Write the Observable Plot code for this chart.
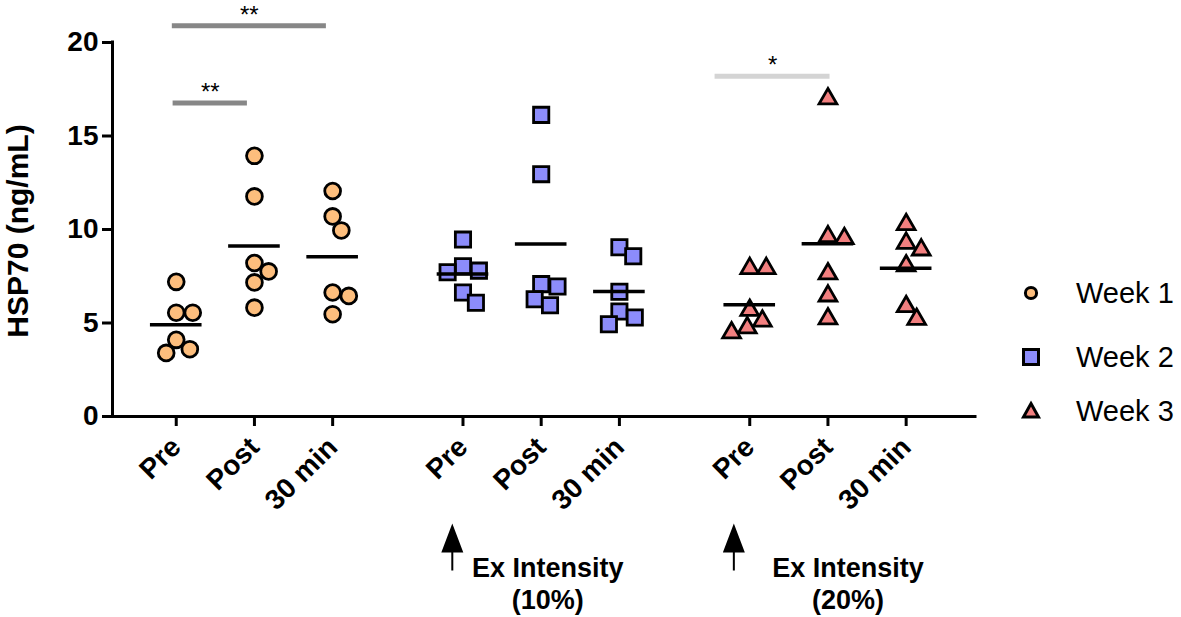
<!DOCTYPE html>
<html>
<head>
<meta charset="utf-8">
<script src="https://cdn.jsdelivr.net/npm/d3@7"></script>
<script src="https://cdn.jsdelivr.net/npm/@observablehq/plot@0.6"></script>
<style>
  body { margin: 0; background: #fff; }
  #wrap { position: relative; width: 1181px; height: 617px; font-family: "Liberation Sans", Arial, sans-serif; color: #000; }
  #ylabel { position: absolute; left: 18px; top: 231px; transform: translate(-50%, -50%) rotate(-90deg); font-weight: bold; font-size: 30px; line-height: 1; white-space: nowrap; }
  .leg { position: absolute; left: 1018px; height: 30px; display: flex; align-items: center; }
  .leg svg { width: 26px; height: 26px; overflow: visible; }
  .leg span { margin-left: 32px; font-size: 29px; line-height: 30px; }
  #wrap svg g[aria-label*="axis"] line, #wrap svg g[aria-label*="axis"] path { stroke-width: 3px; }
</style>
</head>
<body>
<div id="wrap">
  <div id="chart"></div>
  <div id="ylabel">HSP70 (ng/mL)</div>
  <div id="legend"></div>
</div>
<script>
// ---- data ----
const weeks = ["Week 1", "Week 2", "Week 3"];
const times = ["Pre", "Post", "30 min"];

const week1Pre   = [7.20, 5.55, 5.55, 4.10, 3.60, 3.40];
const week1Post  = [13.94, 11.77, 8.21, 7.76, 7.17, 5.82];
const week1Min30 = [12.06, 10.70, 9.95, 6.63, 6.45, 5.47];

const week2Pre   = [9.46, 8.03, 7.80, 7.71, 6.63, 6.08];
const week2Post  = [16.13, 12.96, 7.08, 6.95, 6.27, 5.95];
const week2Min30 = [9.05, 8.57, 6.67, 5.61, 5.29, 4.93];

const week3Pre   = [7.92, 7.92, 5.68, 5.11, 4.75, 4.48];
const week3Post  = [16.99, 9.62, 9.52, 7.63, 6.45, 5.23];
const week3Min30 = [10.27, 9.27, 8.91, 8.06, 5.88, 5.20];

const yTicks = [0, 5, 10, 15, 20];

// significance brackets (x in column units, y in ng/mL)
const sigLabels = ["**", "**", "*"];
const sigLevels = [20.9, 16.76, 18.2];
const sigFrom   = [-0.05, -0.04, 6.89];
const sigTo     = [1.92, 0.91, 8.36];

// exercise-intensity annotations (x in column units)
const interventionLabels = ["Ex Intensity\n(10%)", "Ex Intensity\n(20%)"];
const interventionTextX  = [4.75, 8.59];
const interventionArrowX = [3.53, 7.13];

// ---- layout ----
const W = 1181, H = 617, mL = 112, mR = 206, mT = 42, mB = 201;
const groupStep = 3 + 2 / 3;
const xDomain = [-0.815, 10.22];
const yDomain = [0, 20];
const pxPerX = (W - mL - mR) / (xDomain[1] - xDomain[0]);
const pxPerY = (H - mT - mB) / (yDomain[1] - yDomain[0]);

// simple greedy beeswarm (pixel space) -> horizontal offsets
function beeswarm(ys, diam) {
  const placed = [];
  return ys.map(y => {
    const cands = [0];
    for (const p of placed) {
      const dy = Math.abs(y - p.y);
      if (dy < diam) {
        const dx = Math.sqrt(diam * diam - dy * dy);
        cands.push(p.x + dx, p.x - dx);
      }
    }
    cands.sort((a, b) => Math.abs(a) - Math.abs(b));
    let x = 0;
    for (const c of cands) {
      if (placed.every(p => (c - p.x) ** 2 + (y - p.y) ** 2 >= diam * diam - 1e-6)) { x = c; break; }
    }
    placed.push({x, y});
    return x;
  });
}

const seriesByWeek = [
  [week1Pre, week1Post, week1Min30],
  [week2Pre, week2Post, week2Min30],
  [week3Pre, week3Post, week3Min30]
];
const colPos = (g, t) => g * groupStep + t;

const points = [], means = [], tickPos = [];
weeks.forEach((w, g) => times.forEach((t, ti) => {
  const vals = seriesByWeek[g][ti];
  const pos = colPos(g, ti);
  tickPos.push(pos);
  const offs = beeswarm(vals.map(v => v * pxPerY), 16.5);
  vals.forEach((v, i) => points.push({week: w, time: t, value: v, x: pos + offs[i] / pxPerX}));
  means.push({week: w, time: t, pos, mean: d3.mean(vals)});
}));

const sig = sigLabels.map((label, i) => ({label, y: sigLevels[i], x1: sigFrom[i], x2: sigTo[i]}));
const notes = interventionLabels.map((text, i) => ({text, tx: interventionTextX[i], ax: interventionArrowX[i]}));

const arrowSymbol = {
  draw(context) {
    context.moveTo(0, 0);
    context.lineTo(11, 29);
    context.lineTo(-11, 29);
    context.closePath();
    context.moveTo(1, 28);
    context.lineTo(1, 47);
    context.lineTo(-1, 47);
    context.lineTo(-1, 28);
    context.closePath();
  }
};

const fills = {"Week 1": "#FDBE7D", "Week 2": "#8C8CFB", "Week 3": "#F27F7F"};
const symbols = {"Week 1": "circle", "Week 2": "square", "Week 3": "triangle"};
const radii = {"Week 1": 7.9, "Week 2": 8.6, "Week 3": 6.6};

const chart = Plot.plot({
  width: W, height: H,
  marginLeft: mL, marginRight: mR, marginTop: mT, marginBottom: mB,
  style: {fontFamily: "'Liberation Sans', Arial, sans-serif", fontSize: "28px", fontWeight: "bold", color: "#000", background: "#fff"},
  x: {
    type: "linear", domain: xDomain, ticks: tickPos,
    tickFormat: d => { const i = tickPos.findIndex(p => Math.abs(p - d) < 1e-6); return i < 0 ? "" : times[i % 3]; },
    tickRotate: -45, tickSize: 10, tickPadding: 16, label: null
  },
  y: {domain: yDomain, ticks: yTicks, tickSize: 10, tickPadding: 4, label: null},
  marks: [
    Plot.ruleY([0], {strokeWidth: 3, strokeLinecap: "square"}),
    Plot.ruleX([xDomain[0]], {y1: yDomain[0], y2: yDomain[1], strokeWidth: 3, strokeLinecap: "square"}),
    Plot.ruleY(sig.filter(d => d.label === "**"), {x1: "x1", x2: "x2", y: "y", stroke: "#878787", strokeWidth: 5}),
    Plot.ruleY(sig.filter(d => d.label === "*"), {x1: "x1", x2: "x2", y: "y", stroke: "#d4d4d4", strokeWidth: 5}),
    Plot.text(sig, {x: d => (d.x1 + d.x2) / 2, y: "y", text: "label", lineAnchor: "bottom", dy: -3, fontSize: 24, fontWeight: "normal"}),
    ...weeks.map(w => Plot.dot(points.filter(d => d.week === w), {
      x: "x", y: "value", symbol: symbols[w], r: radii[w], fill: fills[w], stroke: "#000", strokeWidth: 2.8
    })),
    Plot.ruleY(means, {x1: d => d.pos - 0.33, x2: d => d.pos + 0.33, y: "mean", stroke: "#000", strokeWidth: 3.5}),
    Plot.dot(notes, {x: "ax", y: 0, dy: 107, symbol: arrowSymbol, fill: "#000", stroke: "none"}),
    Plot.text(notes, {x: "tx", y: 0, dy: 137, text: "text", lineAnchor: "top", lineHeight: 1.2, fontSize: 27, fontWeight: "bold"})
  ]
});
document.getElementById("chart").appendChild(chart);

// legend
const legend = document.getElementById("legend");
const legendCenters = [293, 357, 411];
const legendShapes = {
  "Week 1": `<circle cx="13" cy="13" r="5.6" fill="${fills["Week 1"]}" stroke="#000" stroke-width="3"/>`,
  "Week 2": `<rect x="5.5" y="5.5" width="15" height="15" fill="${fills["Week 2"]}" stroke="#000" stroke-width="3"/>`,
  "Week 3": `<path d="M13,5.5 L20.5,19 L5.5,19 Z" fill="${fills["Week 3"]}" stroke="#000" stroke-width="3" stroke-linejoin="miter"/>`
};
weeks.forEach((w, i) => {
  const div = document.createElement("div");
  div.className = "leg";
  div.style.top = (legendCenters[i] - 15) + "px";
  div.innerHTML = `<svg viewBox="0 0 26 26">${legendShapes[w]}</svg><span>${w}</span>`;
  legend.appendChild(div);
});
</script>
</body>
</html>
